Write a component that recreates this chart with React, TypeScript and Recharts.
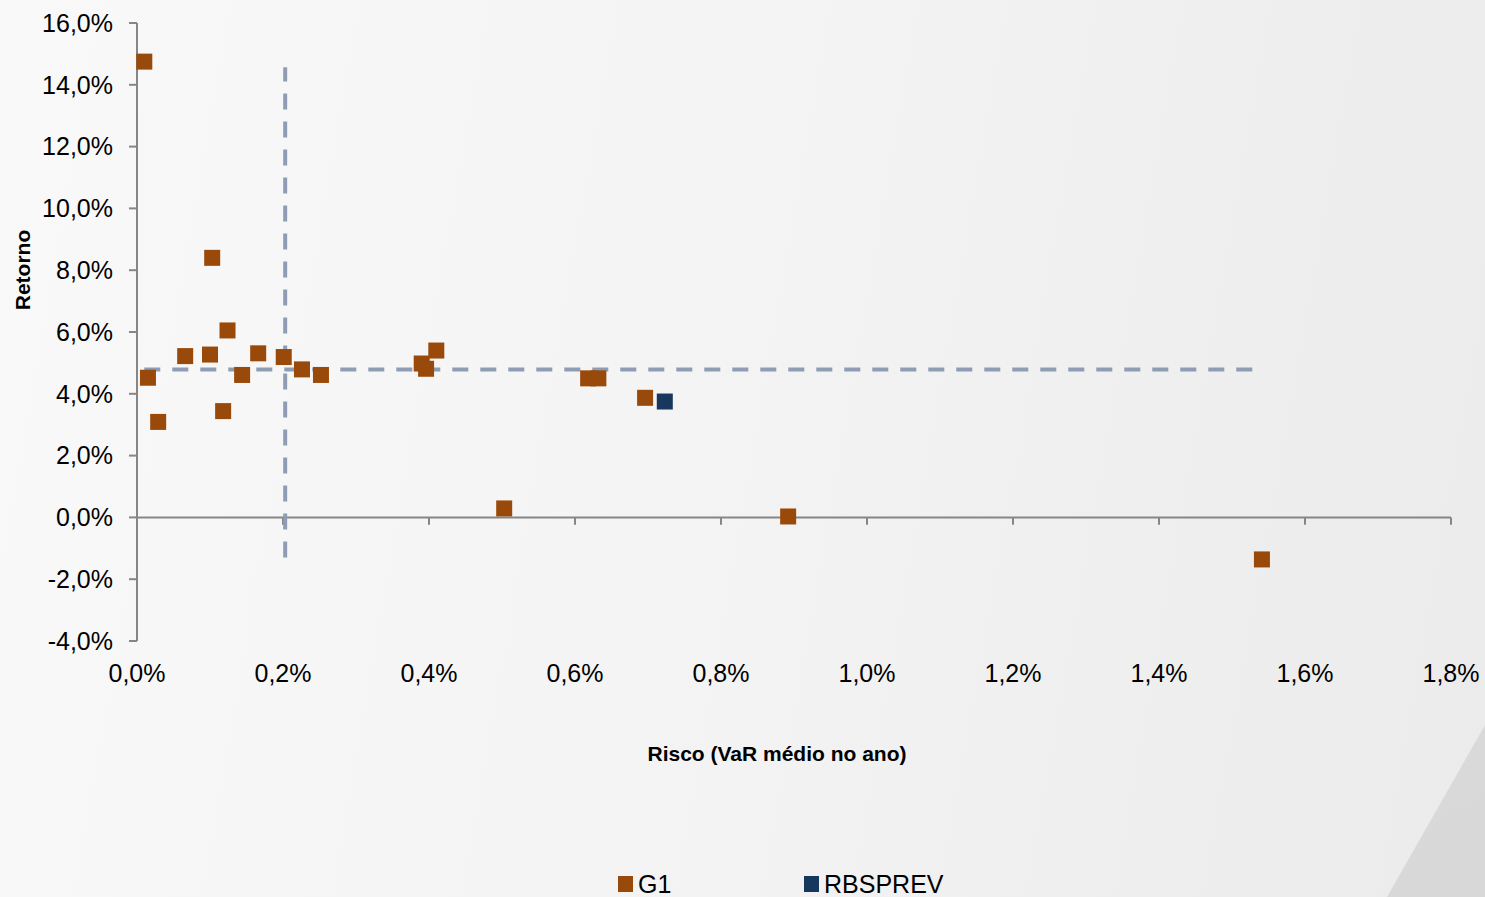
import {
  ScatterChart,
  Scatter,
  XAxis,
  YAxis,
  ReferenceLine,
  Legend
} from 'recharts'

// risco (VaR médio no ano, %) e retorno (%) por fundo
const g1Risk = [0.01, 0.015, 0.029, 0.066, 0.103, 0.1, 0.124, 0.118, 0.144, 0.166, 0.201, 0.226, 0.252, 0.39, 0.396, 0.41, 0.618, 0.632, 0.696, 0.503, 0.892, 1.541]
const g1Return = [14.75, 4.52, 3.09, 5.22, 8.4, 5.27, 6.05, 3.44, 4.61, 5.31, 5.19, 4.79, 4.61, 4.98, 4.81, 5.4, 4.5, 4.5, 3.87, 0.29, 0.03, -1.36]
const rbsRisk = [0.723]
const rbsReturn = [3.75]

// linhas de média (tracejadas)
const avgReturn = 4.79
const avgReturnRange = [0.01, 1.53]
const avgRisk = 0.203
const avgRiskRange = [-1.3, 14.57]

const xTicks = [0, 0.2, 0.4, 0.6, 0.8, 1.0, 1.2, 1.4, 1.6, 1.8]
const yTicks = [-4, -2, 0, 2, 4, 6, 8, 10, 12, 14, 16]

const g1Data = g1Risk.map((x, i) => ({ x, y: g1Return[i] }))
const rbsData = rbsRisk.map((x, i) => ({ x, y: rbsReturn[i] }))

const FONT = 'Arial, "Liberation Sans", sans-serif'
const AXIS_GRAY = '#868686'
const DASH = '#8e9db3'
const MARK = 16

const pct = (v: number) => `${v.toFixed(1).replace('.', ',')}%`

const squareShape = (p: any) => (
  <rect x={p.cx - MARK / 2} y={p.cy - MARK / 2} width={MARK} height={MARK} fill={p.fill} />
)

const renderLegend = (props: any) => {
  const items = props.payload || []
  return (
    <div style={{ display: 'flex', fontFamily: FONT, fontSize: 25, color: '#000' }}>
      {items.map((it: any, i: number) => (
        <div key={i} style={{ display: 'flex', alignItems: 'center', width: i === 0 ? 186 : 'auto' }}>
          <span style={{ width: 15, height: 16, background: it.color, marginRight: 5, display: 'inline-block' }} />
          <span style={{ lineHeight: '28px' }}>{it.value}</span>
        </div>
      ))}
    </div>
  )
}

export default function App() {
  return (
    <div
      style={{
        position: 'absolute',
        left: 0,
        top: 0,
        width: 1485,
        height: 897,
        overflow: 'hidden',
        background: 'linear-gradient(100deg, #f9f9f9 0%, #f4f4f4 45%, #ebebeb 100%)'
      }}
    >
      <div
        style={{
          position: 'absolute',
          inset: 0,
          background: 'linear-gradient(160deg, #e4e4e4, #d8d8d8)',
          clipPath: 'polygon(1485px 725px, 1485px 897px, 1387px 897px)'
        }}
      />
      <ScatterChart width={1485} height={897} margin={{ top: 23, right: 34, left: 0, bottom: 0 }}>
        <XAxis
          type="number"
          dataKey="x"
          domain={[0, 1.8]}
          ticks={xTicks}
          tickFormatter={pct}
          axisLine={false}
          tickLine={false}
          tickSize={0}
          tickMargin={23}
          height={256}
          tick={{ fill: '#000', fontSize: 25, fontFamily: FONT }}
          label={{
            content: ({ viewBox }: any) => (
              <text
                x={viewBox.x + 640}
                y={viewBox.y + 112}
                textAnchor="middle"
                dominantBaseline="central"
                fontFamily={FONT}
                fontSize={21}
                fontWeight="bold"
                fill="#000"
              >
                Risco (VaR médio no ano)
              </text>
            )
          }}
        />
        <YAxis
          type="number"
          dataKey="y"
          domain={[-4, 16]}
          ticks={yTicks}
          tickFormatter={pct}
          width={137}
          axisLine={{ stroke: AXIS_GRAY, strokeWidth: 2 }}
          tickLine={{ stroke: AXIS_GRAY, strokeWidth: 2 }}
          tickSize={8}
          tickMargin={16}
          tick={{ fill: '#000', fontSize: 25, fontFamily: FONT }}
          label={{
            content: ({ viewBox }: any) => {
              const cx = viewBox.x + 22
              const cy = viewBox.y + 247
              return (
                <text
                  x={cx}
                  y={cy}
                  transform={`rotate(-90, ${cx}, ${cy})`}
                  textAnchor="middle"
                  dominantBaseline="central"
                  fontFamily={FONT}
                  fontSize={21}
                  fontWeight="bold"
                  fill="#000"
                >
                  Retorno
                </text>
              )
            }
          }}
        />
        <ReferenceLine y={0} stroke={AXIS_GRAY} strokeWidth={2} />
        {xTicks.slice(1).map((t) => (
          <ReferenceLine
            key={t}
            segment={[{ x: t, y: 0 }, { x: t, y: -0.24 }]}
            stroke={AXIS_GRAY}
            strokeWidth={2}
          />
        ))}
        <ReferenceLine
          segment={[{ x: avgReturnRange[0], y: avgReturn }, { x: avgReturnRange[1], y: avgReturn }]}
          stroke={DASH}
          strokeWidth={4}
          strokeDasharray="16 12"
        />
        <ReferenceLine
          segment={[{ x: avgRisk, y: avgRiskRange[0] }, { x: avgRisk, y: avgRiskRange[1] }]}
          stroke={DASH}
          strokeWidth={4}
          strokeDasharray="16 12"
        />
        <Scatter name="G1" data={g1Data} fill="#994a0a" shape={squareShape} legendType="square" isAnimationActive={false} />
        <Scatter name="RBSPREV" data={rbsData} fill="#17375e" shape={squareShape} legendType="square" isAnimationActive={false} />
        <Legend
          verticalAlign="middle"
          align="center"
          content={renderLegend}
          wrapperStyle={{ top: 870, left: 618, width: 'auto' }}
        />
      </ScatterChart>
    </div>
  )
}
